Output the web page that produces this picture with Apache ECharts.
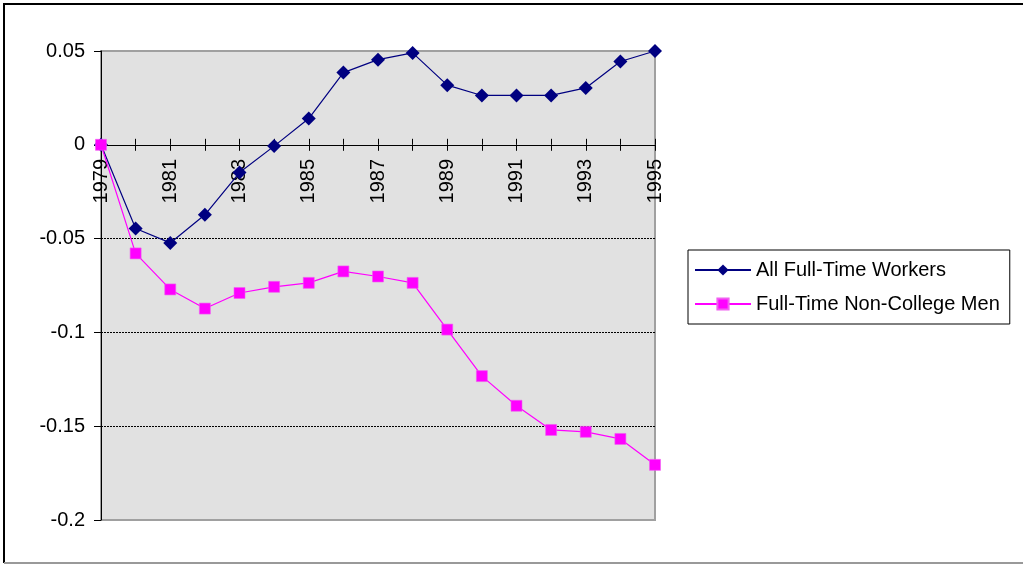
<!DOCTYPE html>
<html>
<head>
<meta charset="utf-8">
<title>Wage change 1979-1995</title>
<script src="https://cdn.jsdelivr.net/npm/echarts@6/dist/echarts.min.js"></script>
<style>
  html, body { margin: 0; padding: 0; background: #fff; }
  #main { width: 1023px; height: 565px; }
</style>
</head>
<body>
<div id="main"></div>
<script>
// years on the category axis
const years = ['1979', '1980', '1981', '1982', '1983', '1984', '1985', '1986', '1987',
  '1988', '1989', '1990', '1991', '1992', '1993', '1994', '1995'];

// values
const allWorkers = [0, -0.0446, -0.0523, -0.0373, -0.0148, -0.0007, 0.014, 0.0385, 0.0454,
  0.049, 0.0318, 0.0263, 0.0263, 0.0263, 0.0303, 0.0444, 0.05];
const nonCollegeMen = [0, -0.0579, -0.0771, -0.0873, -0.079, -0.0757, -0.0736, -0.0675, -0.0702,
  -0.0736, -0.0985, -0.1233, -0.1391, -0.152, -0.153, -0.1568, -0.1706];

const yTicks = ['-0.2', '-0.15', '-0.1', '-0.05', '0', '0.05'];

const FONT = 'Arial, "Liberation Sans", sans-serif';
const FS = 20;

const chart = echarts.init(document.getElementById('main'));

const option = {
  animation: false,
  backgroundColor: '#fff',
  textStyle: { fontFamily: FONT },
  graphic: [
    { // outer chart frame (top + left black, bottom grey)
      type: 'polyline',
      shape: { points: [[4, 563], [4, 4], [1030, 4]] },
      style: { stroke: '#000', lineWidth: 2, fill: null }
    },
    {
      type: 'line',
      shape: { x1: 4, y1: 563, x2: 1030, y2: 563 },
      style: { stroke: '#999', lineWidth: 2 }
    }
  ],
  legend: {
    orient: 'vertical',
    left: 688,
    top: 250,
    padding: [10, 10, 10, 6],
    itemGap: 14,
    itemWidth: 56,
    itemHeight: 14,
    borderColor: '#000',
    borderWidth: 1,
    textStyle: { fontSize: FS, color: '#000', fontFamily: FONT },
    data: ['All Full-Time Workers', 'Full-Time Non-College Men']
  },
  grid: {
    left: 101,
    right: 368,
    top: 51,
    bottom: 45,
    outerBoundsMode: 'none',
    show: true,
    backgroundColor: '#e1e1e1',
    borderColor: '#a0a0a0',
    borderWidth: 2
  },
  xAxis: [
    {
      type: 'category',
      data: years,
      boundaryGap: false,
      axisLine: { onZero: true, onZeroAxisIndex: 0, lineStyle: { color: '#000', width: 1 } },
      axisTick: { interval: 0, length: 6, lineStyle: { color: '#000' } },
      // labels get laid out at the grid edge, pull them back up under the zero line
      axisLabel: { interval: 1, rotate: 90, margin: -361, fontSize: FS, color: '#000', fontFamily: FONT },
      splitLine: { show: false }
    },
    { // copy with inside ticks so ticks cross the zero line
      type: 'category',
      data: years,
      position: 'bottom',
      boundaryGap: false,
      axisLine: { onZero: true, onZeroAxisIndex: 0, lineStyle: { color: '#000', width: 1 } },
      axisTick: { interval: 0, inside: true, length: 6, lineStyle: { color: '#000' } },
      axisLabel: { show: false },
      splitLine: { show: false }
    }
  ],
  yAxis: {
    type: 'value',
    min: -0.2,
    max: 0.05,
    interval: 0.05,
    axisLine: { show: true, onZero: false, lineStyle: { color: '#000', width: 1 } },
    axisTick: { show: true, length: 7, lineStyle: { color: '#000' } },
    axisLabel: {
      margin: 16,
      fontSize: FS,
      color: '#000',
      fontFamily: FONT,
      formatter: (v, i) => yTicks[i] !== undefined ? yTicks[i] : String(+v.toFixed(2))
    },
    splitLine: {
      show: true,
      lineStyle: { type: [2, 1], width: 1, color: ['#a0a0a0', '#000', '#000', '#000', '#000', '#a0a0a0'] }
    }
  },
  series: [
    {
      name: 'All Full-Time Workers',
      type: 'line',
      data: allWorkers,
      symbol: 'diamond',
      symbolSize: 14,
      showAllSymbol: true,
      lineStyle: { color: '#000080', width: 1.2 },
      itemStyle: { color: '#000080' }
    },
    {
      name: 'Full-Time Non-College Men',
      type: 'line',
      data: nonCollegeMen,
      symbol: 'rect',
      symbolSize: 11,
      showAllSymbol: true,
      lineStyle: { color: '#ff00ff', width: 1.2 },
      itemStyle: { color: '#ff00ff', borderColor: '#f060f0', borderWidth: 0.6 }
    }
  ]
};

chart.setOption(option);
</script>
</body>
</html>
